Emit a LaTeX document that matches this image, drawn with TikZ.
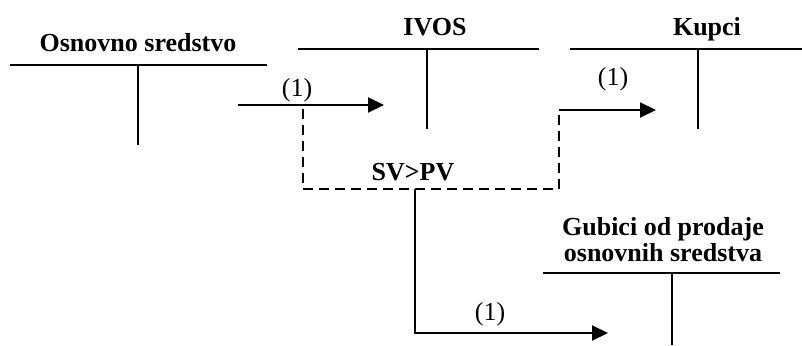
\documentclass[tikz,border=0pt]{standalone}
\usepackage{fontspec}
\setmainfont{Liberation Serif}
\usetikzlibrary{arrows.meta}
\begin{document}
\begin{tikzpicture}[x=1pt,y=-1pt,
  title/.style={font=\fontsize{26}{28}\selectfont\bfseries, anchor=base, inner sep=0pt},
  num/.style={font=\fontsize{26}{28}\selectfont, anchor=base, inner sep=0pt},
  tline/.style={line width=1.8pt},
  arr/.style={line width=2pt, -{Triangle[length=16pt,width=15pt]}},
  dline/.style={line width=1.8pt, dash pattern=on 10pt off 6pt}]
\useasboundingbox (0,0) rectangle (802,345);
% T-accounts
\node[title] (os) at (138,52) {Osnovno sredstvo};
\draw[tline] (10,65) -- (267,65);
\draw[tline] (138,65) -- (138,145);
\node[title] (ivos) at (435,36) {IVOS};
\draw[tline] (298,49) -- (539,49);
\draw[tline] (427,49) -- (427,129);
\node[title] (kupci) at (707,36) {Kupci};
\draw[tline] (570,49) -- (802,49);
\draw[tline] (698,49) -- (698,129);
\node[title] (g1) at (663,235) {Gubici od prodaje};
\node[title] (g2) at (663,261) {osnovnih sredstva};
\draw[tline] (543,273) -- (780,273);
\draw[tline] (672,273) -- (672,345);
% connectors
\coordinate (a1s) at (238,105);
\coordinate (a1e) at (384,105);
\draw[arr] (a1s) -- (a1e);
\node[num] (n1) at (297,96) {(1)};
\coordinate (d1) at (303,109);
\coordinate (d2) at (303,189);
\coordinate (d3) at (559,189);
\coordinate (d4) at (559,110);
\draw[dline] (d1) -- (d2) -- (d3) -- (d4);
\coordinate (a2e) at (656,110);
\draw[arr] (d4) -- (a2e);
\node[num] (n2) at (613,85) {(1)};
\node[title] (sv) at (413,180) {SV>PV};
\coordinate (b1) at (415,189);
\coordinate (b2) at (415,333);
\coordinate (b3) at (608,333);
\draw[arr] (b1) -- (b2) -- (b3);
\node[num] (n3) at (490,320) {(1)};
\end{tikzpicture}
\end{document}
